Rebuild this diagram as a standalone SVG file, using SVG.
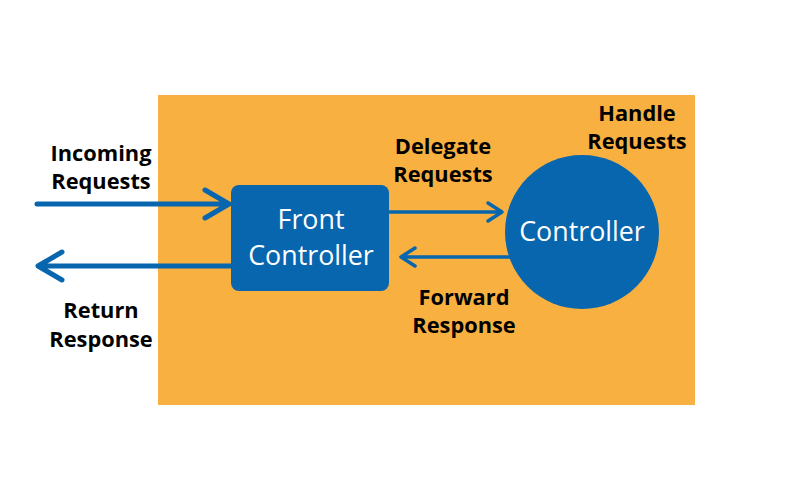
<svg xmlns="http://www.w3.org/2000/svg" width="800" height="500" viewBox="0 0 800 500">
<style>
.lbl{font-family:"Open Sans","Liberation Sans",sans-serif;font-weight:bold;font-size:21.8px;fill:#000;text-anchor:middle}
.ntxt{font-family:"Open Sans","Liberation Sans",sans-serif;font-size:26.8px;fill:#fff;text-anchor:middle}
.ln{stroke:#0766AE;fill:none;stroke-linecap:round;stroke-linejoin:round}
</style>
<rect width="800" height="500" fill="#fff"/>
<rect x="158" y="95" width="537" height="310" fill="#F8B040"/>
<g id="connectors">
<path class="ln" stroke-width="5" d="M37 204H227M205 190L229 204L205 218"/>
<path class="ln" stroke-width="5" d="M231 266H40M62 252L38 266L62 280"/>
<path class="ln" stroke-width="3.5" d="M389 212H501M488 203L502 212L488 221"/>
<path class="ln" stroke-width="3.5" d="M509 257H402M415 248L401 257L415 266"/>
</g>
<g id="front-controller">
<rect x="231" y="185" width="158" height="106" rx="8" fill="#0766AE"/>
<text class="ntxt" x="311" y="229">Front</text>
<text class="ntxt" x="311" y="265">Controller</text>
</g>
<g id="controller">
<circle cx="582" cy="232" r="77" fill="#0766AE"/>
<text class="ntxt" x="582" y="241">Controller</text>
</g>
<g id="labels">
<text class="lbl" x="101" y="161">Incoming</text>
<text class="lbl" x="101" y="189">Requests</text>
<text class="lbl" x="101" y="318">Return</text>
<text class="lbl" x="101" y="347">Response</text>
<text class="lbl" x="443" y="154">Delegate</text>
<text class="lbl" x="443" y="182">Requests</text>
<text class="lbl" x="637" y="121">Handle</text>
<text class="lbl" x="637" y="149">Requests</text>
<text class="lbl" x="464" y="305">Forward</text>
<text class="lbl" x="464" y="333">Response</text>
</g>
</svg>
